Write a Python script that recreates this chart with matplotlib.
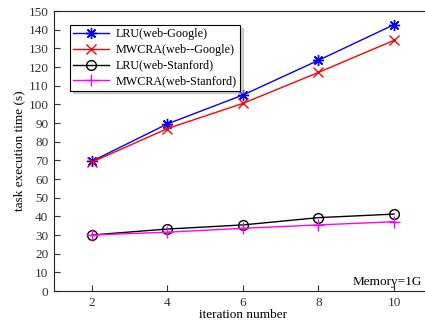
import matplotlib
matplotlib.use("Agg")
import matplotlib.pyplot as plt

plt.rcParams['font.family'] = ['Liberation Serif', 'DejaVu Serif']
plt.rcParams['font.size'] = 9.5

iterations = [2, 4, 6, 8, 10]
lru_google = [69.5, 89.5, 105.0, 123.6, 142.7]
mwcra_google = [69.0, 87.0, 100.5, 117.1, 134.3]
lru_stanford = [30.0, 33.2, 35.4, 39.3, 41.2]
mwcra_stanford = [30.0, 31.5, 33.6, 35.4, 37.1]

fig = plt.figure(figsize=(4.25, 3.29), dpi=100)
ax = fig.add_axes([0.127, 0.1155, 0.889, 0.851])

# matlab style asterisk = 8 arms
ax.plot(iterations, lru_google, color='blue', marker=(8, 2, 0), markersize=8, mew=1, lw=1, label='LRU(web-Google)')
ax.plot(iterations, mwcra_google, color='red', marker='x', markersize=7, mew=1, lw=1, label='MWCRA(web--Google)')
ax.plot(iterations, lru_stanford, color='black', marker='o', markersize=7, mfc='none', mew=1, lw=1, label='LRU(web-Stanford)')
ax.plot(iterations, mwcra_stanford, color='magenta', marker='+', markersize=8, mew=1, lw=1, label='MWCRA(web-Stanford)')

ax.set_xlim(1, 11)
ax.set_ylim(0, 150)
ax.set_xticks(iterations)
ax.set_yticks(range(0, 151, 10))
ax.tick_params(direction='in', length=4, pad=4, colors='#333333', labelcolor='#333333')
for s in ax.spines.values():
    s.set_color('#222222')

ax.set_xlabel('iteration number', labelpad=0)
ax.set_ylabel('task execution time (s)', labelpad=2)
ax.text(0.975, 0.012, 'Memory=1G', transform=ax.transAxes, ha='right', va='bottom')

leg = ax.legend(loc='upper left', bbox_to_anchor=(0.042, 0.95), fancybox=False,
                shadow={'ox': 2, 'oy': -2, 'color': '0.65'},
                edgecolor='black', framealpha=1, fontsize=8.7, handlelength=3.0, borderpad=0.25,
                labelspacing=0.32, handletextpad=0.55, borderaxespad=0)
leg.get_frame().set_linewidth(0.8)

fig.savefig('out.png', dpi=100)
